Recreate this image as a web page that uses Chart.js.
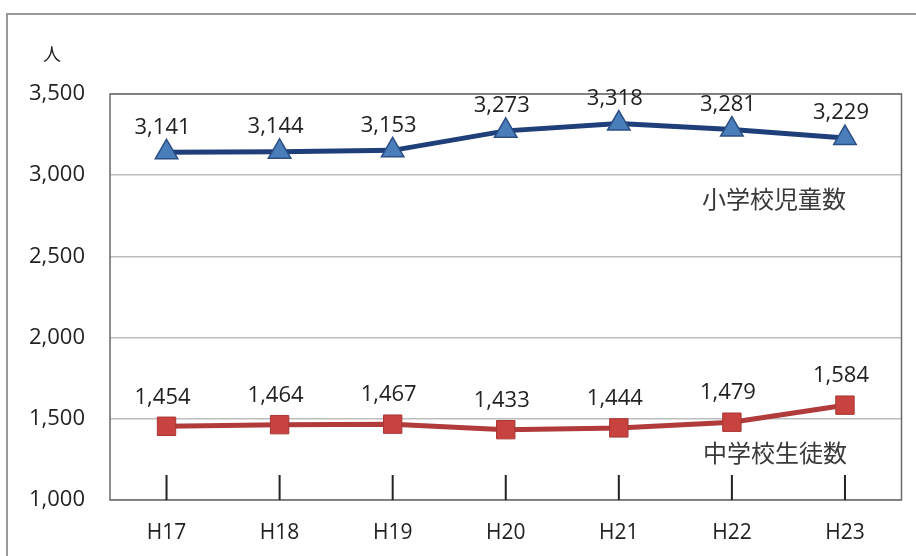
<!DOCTYPE html>
<html>
<head>
<meta charset="utf-8">
<script src="https://cdn.jsdelivr.net/npm/chart.js@4/dist/chart.umd.min.js"></script>
<style>
  html, body { margin: 0; padding: 0; background: #fff; }
  #wrap { width: 916px; height: 556px; position: relative; }
</style>
</head>
<body>
<div id="wrap"><canvas id="chart" width="916" height="556"></canvas></div>
<script>
// data
const years = ['H17', 'H18', 'H19', 'H20', 'H21', 'H22', 'H23'];
const elementary = [3141, 3144, 3153, 3273, 3318, 3281, 3229];
const juniorHigh = [1454, 1464, 1467, 1433, 1444, 1479, 1584];
const yTicks = [1000, 1500, 2000, 2500, 3000, 3500];

const numFont = '"Open Sans", "Liberation Sans", sans-serif';
const jpFont = '"Noto Sans CJK JP", sans-serif';

// frame, unit label, tick marks, value labels, series names
const decorPlugin = {
    id: 'decor',
    beforeDraw(chart) {
        const ctx = chart.ctx;
        ctx.save();
        ctx.strokeStyle = '#9a9a9a';
        ctx.lineWidth = 2;
        ctx.strokeRect(7, 14, 940, 600);
        ctx.restore();
    },
    afterDatasetsDraw(chart) {
        const ctx = chart.ctx;
        const area = chart.chartArea;
        const x = chart.scales.x;
        ctx.save();
        // plot border
        ctx.strokeStyle = '#6a6a6a';
        ctx.lineWidth = 1.5;
        ctx.strokeRect(area.left, area.top, area.right - area.left, area.bottom - area.top);
        // tick marks
        ctx.strokeStyle = '#222';
        ctx.lineWidth = 2;
        years.forEach((y, i) => {
            const px = x.getPixelForValue(i);
            ctx.beginPath();
            ctx.moveTo(px, area.bottom - 25);
            ctx.lineTo(px, area.bottom);
            ctx.stroke();
        });
        // unit
        ctx.fillStyle = '#222';
        ctx.font = '18px ' + jpFont;
        ctx.textAlign = 'center';
        ctx.textBaseline = 'middle';
        ctx.fillText('人', 52, 54);
        // value labels
        ctx.font = '22px ' + numFont;
        chart.data.datasets.forEach((ds, di) => {
            const meta = chart.getDatasetMeta(di);
            const lift = di === 0 ? 25 : 29;
            meta.data.forEach((pt, i) => {
                ctx.fillText(ds.data[i].toLocaleString('en-US'), pt.x - 4, pt.y - lift);
            });
        });
        // series names
        ctx.fillStyle = '#3a3a3a';
        ctx.font = '24px ' + jpFont;
        ctx.fillText('小学校児童数', 774, 199);
        ctx.fillText('中学校生徒数', 775, 453);
        ctx.restore();
    }
};

new Chart(document.getElementById('chart').getContext('2d'), {
    type: 'line',
    data: {
        labels: years,
        datasets: [
            {
                label: '小学校児童数',
                data: elementary,
                borderColor: '#1f3f7a',
                borderWidth: 5,
                pointStyle: 'triangle',
                pointRadius: 13,
                pointBackgroundColor: '#4a7ebb',
                pointBorderColor: '#2c4f86',
                pointBorderWidth: 1.5,
                tension: 0
            },
            {
                label: '中学校生徒数',
                data: juniorHigh,
                borderColor: '#b13b3a',
                borderWidth: 5,
                pointStyle: 'rect',
                pointRadius: 13,
                pointBackgroundColor: '#c8423f',
                pointBorderColor: '#a83634',
                pointBorderWidth: 1,
                tension: 0
            }
        ]
    },
    options: {
        responsive: false,
        animation: false,
        layout: {
            padding: { top: 94, right: 14, left: 0, bottom: 0 }
        },
        plugins: {
            legend: { display: false },
            tooltip: { enabled: false }
        },
        scales: {
            x: {
                offset: true,
                grid: { display: false, drawTicks: false },
                border: { display: false },
                ticks: {
                    color: '#222',
                    font: { family: numFont, size: 21 },
                    padding: 20
                },
                afterFit(scale) { scale.height = 56; }
            },
            y: {
                min: 1000,
                max: 3500,
                afterBuildTicks(scale) {
                    scale.ticks = yTicks.map(v => ({ value: v }));
                },
                grid: { color: '#bdbdbd', lineWidth: 1.5, drawTicks: false },
                border: { display: false },
                ticks: {
                    color: '#222',
                    font: { family: numFont, size: 22 },
                    padding: 25,
                    callback: v => v.toLocaleString('en-US')
                },
                afterFit(scale) { scale.width = 110; }
            }
        }
    },
    plugins: [decorPlugin]
});
</script>
</body>
</html>
